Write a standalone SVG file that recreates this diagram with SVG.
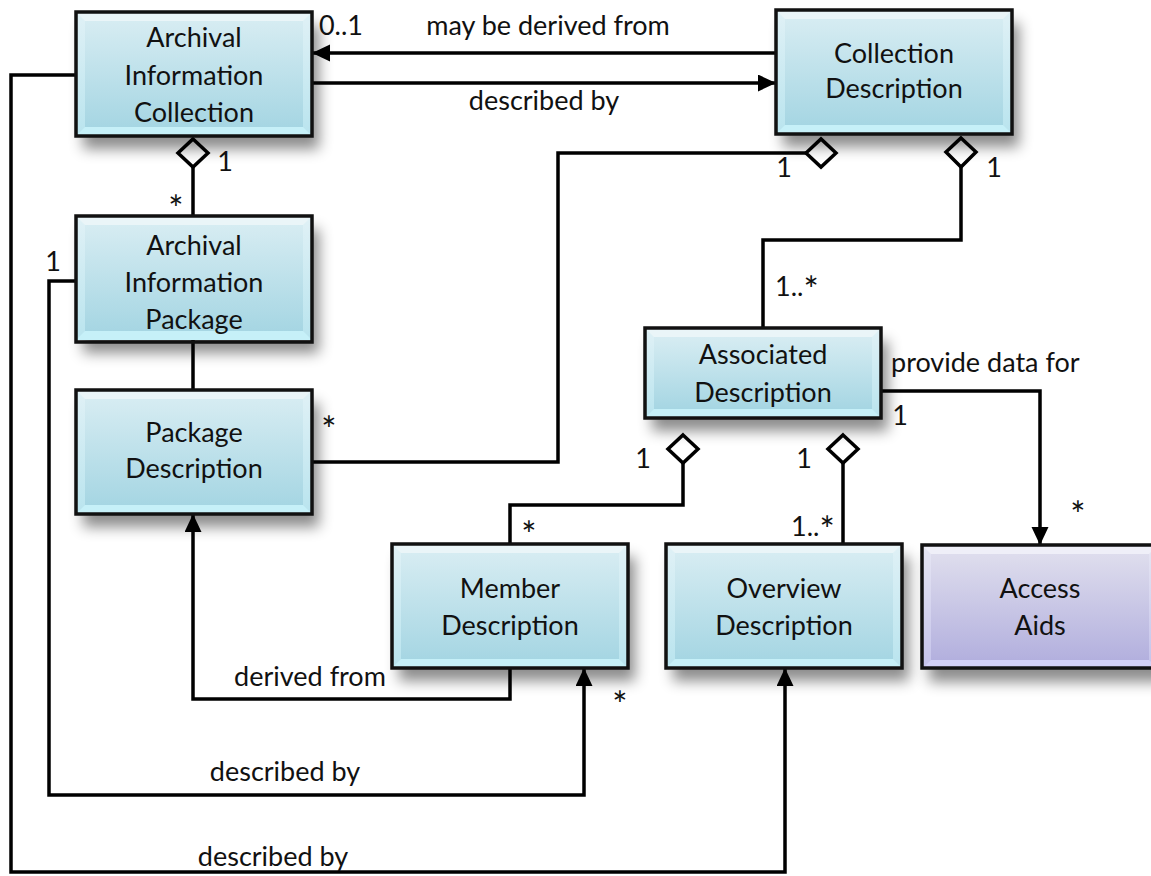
<svg xmlns="http://www.w3.org/2000/svg" xmlns:xlink="http://www.w3.org/1999/xlink" width="1151" height="876" viewBox="0 0 1151 876">
<style>
.t{font-family:Lato,"Liberation Sans",sans-serif;font-size:27px;fill:#111;text-anchor:middle}
.ls{text-anchor:start}
.st{font-size:36px}
.c{fill:none;stroke:#000;stroke-width:3.5;stroke-linejoin:miter}
.a{marker-end:url(#arr)}
.dia{fill:#fff;stroke:#000;stroke-width:3.5}
.bd{fill:none;stroke:#111;stroke-width:3.5}
</style>
<defs>
<linearGradient id="gB" x1="0" y1="0" x2="0" y2="1"><stop offset="0" stop-color="#d6ecf2"/><stop offset="1" stop-color="#a6d6e3"/></linearGradient>
<linearGradient id="gBs" x1="0" y1="0" x2="0" y2="1"><stop offset="0" stop-color="#e0f1f6"/><stop offset="1" stop-color="#b9e4ee"/></linearGradient>
<linearGradient id="gP" x1="0" y1="0" x2="0" y2="1"><stop offset="0" stop-color="#dedded"/><stop offset="1" stop-color="#b3b0de"/></linearGradient>
<linearGradient id="gPs" x1="0" y1="0" x2="0" y2="1"><stop offset="0" stop-color="#e6e6f3"/><stop offset="1" stop-color="#c4c2ea"/></linearGradient>
<filter id="sh" x="-20%" y="-20%" width="150%" height="160%"><feDropShadow dx="7" dy="13" stdDeviation="7" flood-color="#000" flood-opacity="0.45"/></filter>
<marker id="arr" markerUnits="userSpaceOnUse" markerWidth="20" markerHeight="18" refX="18" refY="8.5" orient="auto"><path d="M0,0 L18,8.5 L0,17 z" fill="#000"/></marker>
<g id="bgB">
<rect width="236" height="124" fill="url(#gBs)"/>
<rect x="9" y="9" width="218" height="106" fill="url(#gB)"/>
<polygon points="0,0 236,0 227,9 9,9" fill="#eaf5f8"/>
<polygon points="0,124 236,124 227,115 9,115" fill="#c6f0f8"/>
</g>
<g id="bgBs">
<rect width="236" height="90" fill="url(#gBs)"/>
<rect x="9" y="9" width="218" height="72" fill="url(#gB)"/>
<polygon points="0,0 236,0 227,9 9,9" fill="#eaf5f8"/>
<polygon points="0,90 236,90 227,81 9,81" fill="#c6f0f8"/>
</g>
<g id="bgP">
<rect width="236" height="124" fill="url(#gPs)"/>
<rect x="9" y="9" width="218" height="106" fill="url(#gP)"/>
<polygon points="0,0 236,0 227,9 9,9" fill="#efeff8"/>
<polygon points="0,124 236,124 227,115 9,115" fill="#d2d0f6"/>
</g>
</defs>
<rect width="1151" height="876" fill="#fff"/>

<g id="connectors">
<path class="c a" d="M776,53 L312,53"/>
<path class="c a" d="M312,83 L776,83"/>
<path class="c" d="M193,167 L193,216"/>
<polygon class="dia" points="193,139 208,153 193,167 178,153"/>
<path class="c" d="M193,340 L193,390"/>
<path class="c" d="M312,462 L558,462 L558,153 L806,153"/>
<polygon class="dia" points="806,153 821,139 836,153 821,167"/>
<path class="c" d="M961,167 L961,240 L763,240 L763,328"/>
<polygon class="dia" points="961,138 976,152 961,167 946,152"/>
<path class="c" d="M683,463 L683,505 L510,505 L510,544"/>
<polygon class="dia" points="683,435 698,449 683,463 668,449"/>
<path class="c" d="M843,463 L843,544"/>
<polygon class="dia" points="843,435 858,449 843,463 828,449"/>
<path class="c a" d="M881,391 L1040,391 L1040,545"/>
<path class="c a" d="M510,668 L510,699 L193,699 L193,514"/>
<path class="c a" d="M76,281 L49,281 L49,795 L584,795 L584,668"/>
<path class="c a" d="M76,75 L11,75 L11,872 L785,872 L785,668"/>
<text class="t" x="341" y="35">0..1</text>
<text class="t" x="548" y="35">may be derived from</text>
<text class="t" x="544" y="110">described by</text>
<text class="t" x="225" y="171">1</text>
<text class="t st" x="176" y="222">*</text>
<text class="t" x="53" y="271">1</text>
<text class="t st" x="329" y="443">*</text>
<text class="t" x="784" y="177">1</text>
<text class="t" x="994" y="177">1</text>
<text class="t ls" x="775" y="296">1..<tspan class="st" dy="7">*</tspan></text>
<text class="t ls" x="891" y="372">provide data for</text>
<text class="t" x="900" y="425">1</text>
<text class="t" x="643" y="468">1</text>
<text class="t" x="804" y="468">1</text>
<text class="t st" x="529" y="548">*</text>
<text class="t ls" x="791" y="536">1..<tspan class="st" dy="7">*</tspan></text>
<text class="t st" x="1078" y="528">*</text>
<text class="t st" x="620" y="718">*</text>
<text class="t" x="310" y="686">derived from</text>
<text class="t" x="285" y="781">described by</text>
<text class="t" x="273" y="866">described by</text>
</g>

<g id="aic">
<use xlink:href="#bgB" x="76" y="12" filter="url(#sh)"/>
<rect class="bd" x="76" y="12" width="236" height="124"/>
<text class="t" x="194" y="47">Archival</text>
<text class="t" x="194" y="85">Information</text>
<text class="t" x="194" y="122">Collection</text>
</g>
<g id="cd">
<use xlink:href="#bgB" x="776" y="10" filter="url(#sh)"/>
<rect class="bd" x="776" y="10" width="236" height="124"/>
<text class="t" x="894" y="63">Collection</text>
<text class="t" x="894" y="98">Description</text>
</g>
<g id="aip">
<use xlink:href="#bgB" x="76" y="216" filter="url(#sh)"/>
<rect class="bd" x="76" y="216" width="236" height="126"/>
<text class="t" x="194" y="255">Archival</text>
<text class="t" x="194" y="292">Information</text>
<text class="t" x="194" y="329">Package</text>
</g>
<g id="pd">
<use xlink:href="#bgB" x="76" y="390" filter="url(#sh)"/>
<rect class="bd" x="76" y="390" width="236" height="124"/>
<text class="t" x="194" y="442">Package</text>
<text class="t" x="194" y="478">Description</text>
</g>
<g id="ad">
<use xlink:href="#bgBs" x="645" y="328" filter="url(#sh)"/>
<rect class="bd" x="645" y="328" width="236" height="90"/>
<text class="t" x="763" y="364">Associated</text>
<text class="t" x="763" y="402">Description</text>
</g>
<g id="md">
<use xlink:href="#bgB" x="392" y="544" filter="url(#sh)"/>
<rect class="bd" x="392" y="544" width="236" height="124"/>
<text class="t" x="510" y="598">Member</text>
<text class="t" x="510" y="635">Description</text>
</g>
<g id="od">
<use xlink:href="#bgB" x="666" y="544" filter="url(#sh)"/>
<rect class="bd" x="666" y="544" width="236" height="124"/>
<text class="t" x="784" y="598">Overview</text>
<text class="t" x="784" y="635">Description</text>
</g>
<g id="aa">
<use xlink:href="#bgP" x="922" y="545" filter="url(#sh)"/>
<rect class="bd" x="922" y="545" width="236" height="123"/>
<text class="t" x="1040" y="598">Access</text>
<text class="t" x="1040" y="635">Aids</text>
</g>
</svg>
